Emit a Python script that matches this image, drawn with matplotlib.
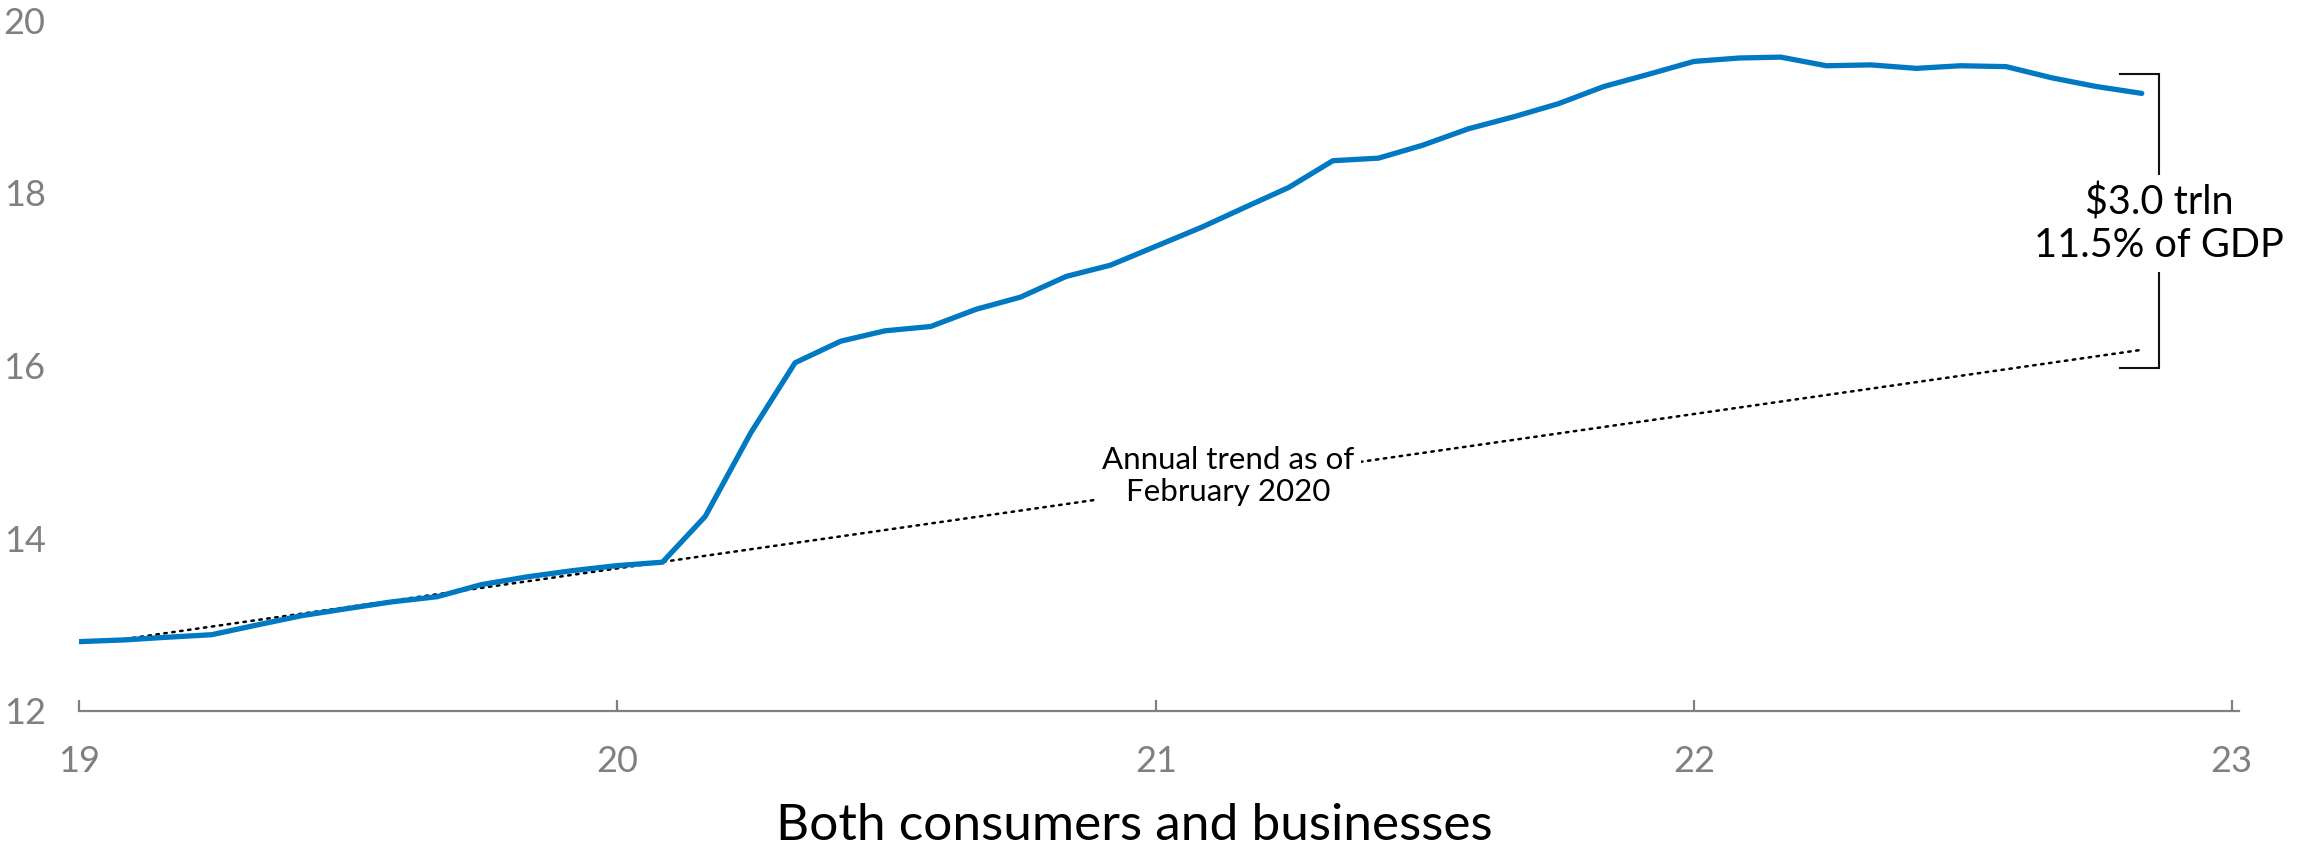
import matplotlib
matplotlib.use("Agg")
import matplotlib.pyplot as plt
import pandas as pd

plt.rcParams["font.family"] = ["Lato", "DejaVu Sans"]

# Monthly series, Jan 2019 - Nov 2022 (trillions)
months = pd.date_range("2019-01-01", "2022-11-01", freq="MS")
values = [
    12.80, 12.82, 12.85, 12.88, 12.99, 13.10, 13.18, 13.26, 13.32, 13.46, 13.55, 13.62,
    13.68, 13.72, 14.25, 15.22, 16.03, 16.28, 16.40, 16.45, 16.65, 16.79, 17.03, 17.16,
    17.38, 17.60, 17.82, 18.06, 18.37, 18.40, 18.55, 18.74, 18.88, 19.03, 19.23, 19.37,
    19.52, 19.56, 19.57, 19.47, 19.48, 19.44, 19.47, 19.46, 19.33, 19.23, 19.15,
]

# Annual trend as of February 2020, extended to the last month
trend_dates = pd.to_datetime(["2019-02-01", "2022-11-01"])
trend_values = [12.83, 16.18]

year_ticks = pd.to_datetime(["2019-01-01", "2020-01-01", "2021-01-01", "2022-01-01", "2023-01-01"])
year_labels = ["19", "20", "21", "22", "23"]
y_ticks = [12, 14, 16, 18, 20]

gap_label = "$3.0 trln\n11.5% of GDP"
trend_label = "Annual trend as of\nFebruary 2020"
title = "Both consumers and businesses"

BLUE = "#0079C2"
GREY = "#808080"

fig = plt.figure(figsize=(22.97, 8.5), dpi=100)
ax = fig.add_axes([79 / 2297, 1 - 710.7 / 850, (2239 - 79) / 2297, (710.7 - 20) / 850])

ax.plot(months, values, color=BLUE, lw=3.8, solid_joinstyle="round", solid_capstyle="round", zorder=3)
ax.plot(trend_dates, trend_values, color="black", lw=1.8,
        linestyle=(0, (1, 2.2)), dash_capstyle="round", zorder=2)

ax.set_ylim(12, 20)
ax.set_xlim(pd.Timestamp("2019-01-01"), pd.Timestamp("2023-01-06"))

ax.set_yticks(y_ticks)
ax.set_xticks(year_ticks)
ax.set_xticklabels(year_labels)

for s in ["top", "right", "left"]:
    ax.spines[s].set_visible(False)
ax.spines["bottom"].set_color(GREY)
ax.spines["bottom"].set_linewidth(1.6)

ax.tick_params(axis="x", direction="in", length=8, width=1.6, color=GREY,
               labelcolor=GREY, labelsize=26, pad=25)
ax.tick_params(axis="y", length=0, labelcolor=GREY, labelsize=26, pad=24)

# Trend label sits on a white box that breaks the dotted line
ax.text(pd.Timestamp("2021-02-19"), 14.72, trend_label, ha="center", va="center",
        fontsize=22.5, multialignment="center", linespacing=1.15,
        bbox=dict(boxstyle="square,pad=0.2", fc="white", ec="none"), zorder=4)

# Bracket between the last value and the trend
bx0, bx1 = pd.Timestamp("2022-10-17"), pd.Timestamp("2022-11-13")
b_top, b_bot = 19.38, 15.97
ax.plot([bx0, bx1, bx1, bx0], [b_top, b_top, b_bot, b_bot], color="#111111", lw=1.5,
        solid_joinstyle="miter", zorder=2, clip_on=False)
ax.text(bx1, 17.64, gap_label, ha="center", va="center", fontsize=28.5,
        multialignment="center", linespacing=1.2,
        bbox=dict(boxstyle="square,pad=0.2", fc="white", ec="none"), zorder=4)

fig.text(0.494, 10 / 850, title, ha="center", va="baseline", fontsize=37)

fig.savefig("out.png", dpi=100)
